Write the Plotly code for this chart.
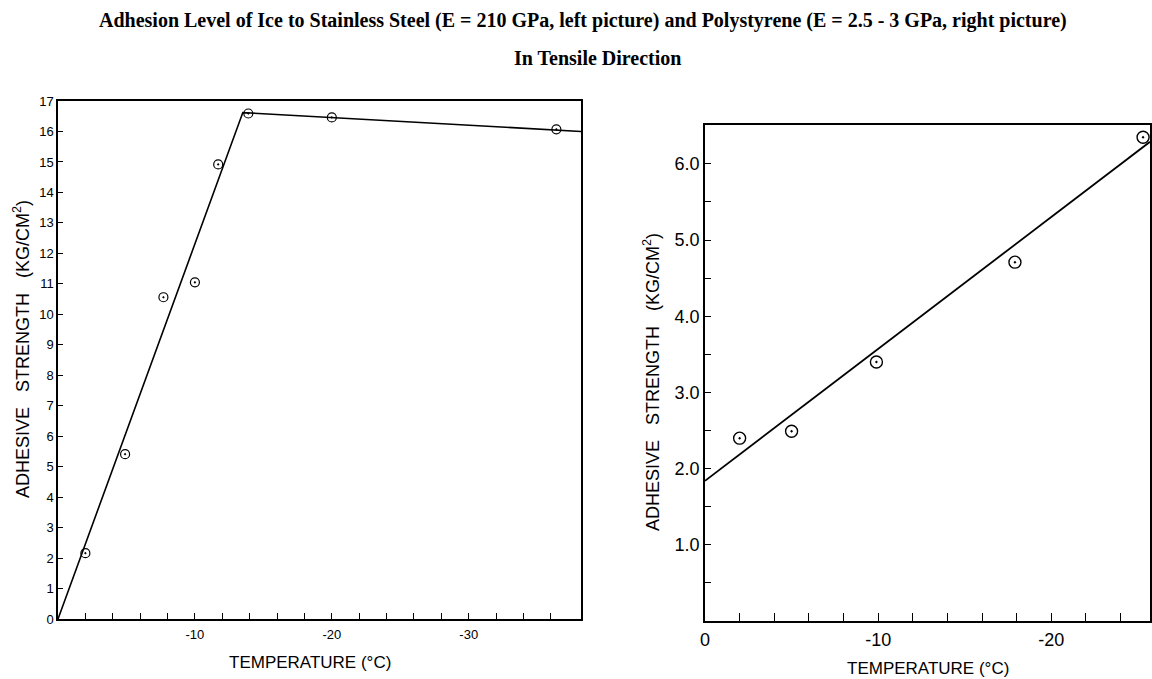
import plotly.graph_objects as go

# ---- data ----
steel_temp = [-2.0, -4.9, -7.7, -10.0, -11.7, -13.9, -20.0, -36.4]
steel_strength = [2.16, 5.41, 10.56, 11.05, 14.92, 16.59, 16.46, 16.07]
steel_fit_temp = [0, -13.5, -38.2]
steel_fit_strength = [0, 16.62, 16.0]

ps_temp = [-2.0, -5.0, -9.9, -17.9, -25.3]
ps_strength = [2.40, 2.49, 3.40, 4.71, 6.35]
ps_fit_temp = [0, -25.7]
ps_fit_strength = [1.84, 6.29]

left_xlabels = [-10, -20, -30]
left_xminor = list(range(0, -38, -2))
left_yticks = list(range(0, 18))
right_xlabels = [0, -10, -20]
right_xminor = list(range(0, -26, -2))
right_ylabels = [1.0, 2.0, 3.0, 4.0, 5.0, 6.0]
right_yminor = [0.5 * i for i in range(1, 13)]

W, H = 1152, 679
def px(x): return x / W
def py(y): return 1 - y / H

fig = go.Figure()
fig.add_trace(go.Scatter(x=steel_fit_temp, y=steel_fit_strength, mode="lines",
                         line=dict(color="black", width=1.6), xaxis="x", yaxis="y",
                         showlegend=False, cliponaxis=False))
fig.add_trace(go.Scatter(x=steel_temp, y=steel_strength, mode="markers",
                         marker=dict(symbol="circle-open-dot", size=9, color="black",
                                     line=dict(width=1.2)),
                         xaxis="x", yaxis="y", showlegend=False, cliponaxis=False))
fig.add_trace(go.Scatter(x=ps_fit_temp, y=ps_fit_strength, mode="lines",
                         line=dict(color="black", width=1.8), xaxis="x2", yaxis="y2",
                         showlegend=False, cliponaxis=False))
fig.add_trace(go.Scatter(x=ps_temp, y=ps_strength, mode="markers",
                         marker=dict(symbol="circle-open-dot", size=12, color="black",
                                     line=dict(width=1.4)),
                         xaxis="x2", yaxis="y2", showlegend=False, cliponaxis=False))

tickfont_l = dict(family="Liberation Sans", size=13, color="black")
tickfont_r = dict(family="Liberation Sans", size=18, color="black")
common = dict(showline=True, linecolor="black", linewidth=1.5, mirror=True,
              showgrid=False, zeroline=False, ticks="inside", tickcolor="black",
              tickmode="array", automargin=False)

def minor(vals, ln):
    return dict(tickmode="array", tickvals=vals, ticks="inside", ticklen=ln,
                tickcolor="black", showgrid=False)

fig.update_layout(
    template="none",
    width=W, height=H, margin=dict(l=0, r=0, t=0, b=0, pad=0),
    paper_bgcolor="white", plot_bgcolor="white",
    xaxis=dict(domain=[px(58), px(581)], anchor="y", range=[0, -38.2],
               tickvals=left_xlabels, ticktext=[str(v) for v in left_xlabels],
               minor=minor(left_xminor, 6),
               ticklen=6, tickfont=tickfont_l, ticklabelstandoff=3, **common),
    yaxis=dict(domain=[py(619), py(101)], anchor="x", range=[0, 17],
               tickvals=left_yticks, ticktext=[str(v) for v in left_yticks],
               ticklen=5, tickfont=tickfont_l, **common),
    xaxis2=dict(domain=[px(705), px(1150)], anchor="y2", range=[0, -25.7],
                tickvals=right_xlabels, ticktext=[str(v) for v in right_xlabels],
                minor=minor(right_xminor, 8),
                ticklen=8, tickfont=tickfont_r, ticklabelstandoff=2, **common),
    yaxis2=dict(domain=[py(621), py(125)], anchor="x2", range=[0, 6.51],
                tickvals=right_ylabels, ticktext=[f"{v:.1f}" for v in right_ylabels],
                minor=minor(right_yminor, 6),
                ticklen=6, tickfont=tickfont_r, **common),
)

title_font = dict(family="Liberation Serif", size=20, color="black")
axis_font = dict(family="Liberation Sans", size=17, color="black")
yaxis_font = dict(family="Liberation Sans", size=18, color="black")
ytitle = "ADHESIVE&nbsp;&nbsp;&nbsp;STRENGTH&nbsp;&nbsp;&nbsp;(KG/CM<sup>2</sup>)"
anns = [
    dict(text="<b>Adhesion Level of Ice to Stainless Steel (E = 210 GPa, left picture) and Polystyrene (E = 2.5 - 3 GPa, right picture)</b>",
         x=px(583), y=py(20), font=title_font),
    dict(text="<b>In Tensile Direction</b>", x=px(597), y=py(58), font=title_font),
    dict(text="TEMPERATURE (°C)", x=px(310), y=py(662), font=axis_font),
    dict(text="TEMPERATURE (°C)", x=px(928), y=py(668), font=axis_font),
    dict(text=ytitle, x=px(22), y=py(349), textangle=-90, font=yaxis_font),
    dict(text=ytitle, x=px(651), y=py(382), textangle=-90, font=yaxis_font),
]
for a in anns:
    fig.add_annotation(xref="paper", yref="paper", showarrow=False,
                       xanchor="center", yanchor="middle", **a)

fig.write_html("out.html")
